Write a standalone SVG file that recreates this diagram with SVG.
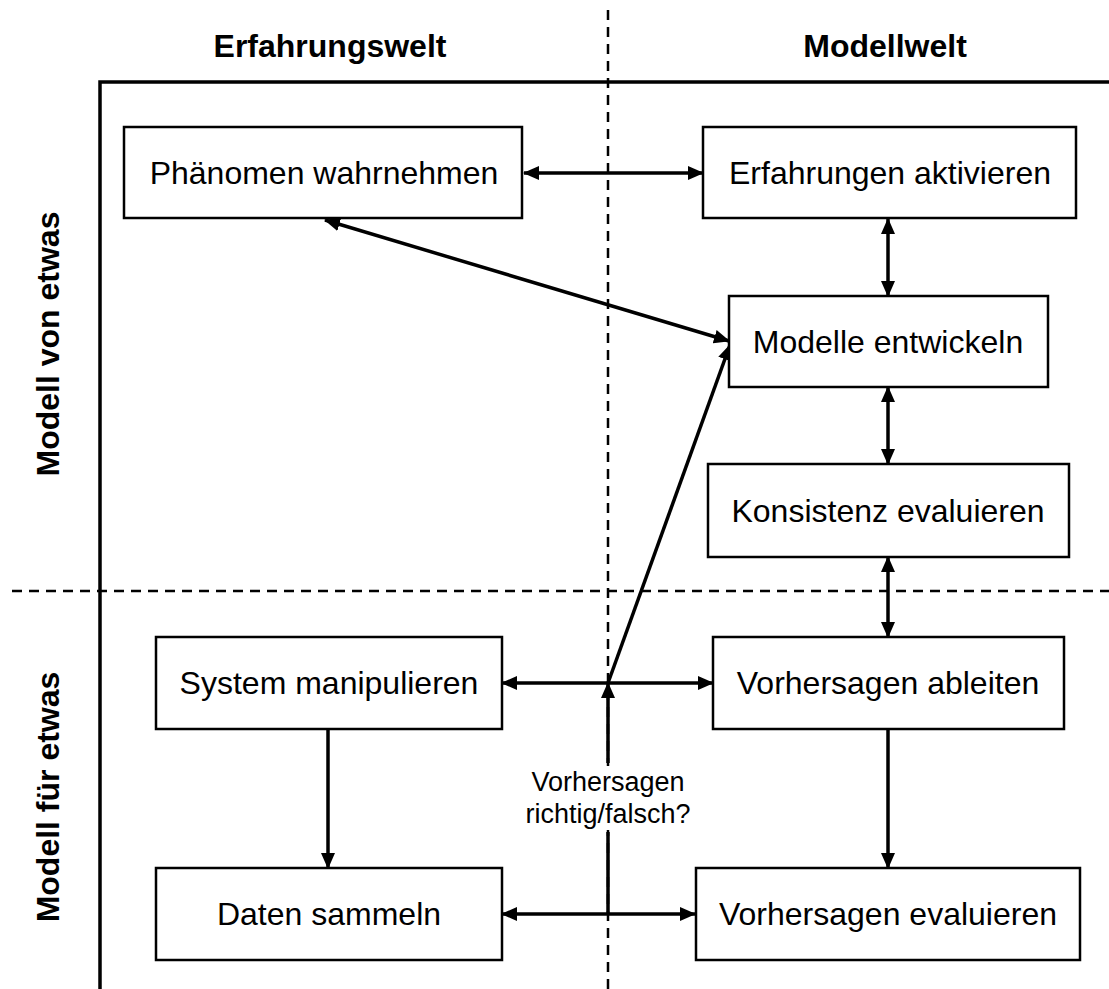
<svg xmlns="http://www.w3.org/2000/svg" width="1109" height="989" viewBox="0 0 1109 989">
  <style>
    .box rect { fill: #fff; stroke: #000; stroke-width: 2.5; }
    .box text { font-family: "Liberation Sans", Arial, sans-serif; font-size: 32px; text-anchor: middle; fill: #000; }
    .head { font-family: "Liberation Sans", Arial, sans-serif; font-size: 32px; font-weight: bold; text-anchor: middle; fill: #000; }
    .axis { stroke: #000; stroke-width: 3.5; fill: none; }
    .divider { stroke: #000; stroke-width: 2.5; stroke-dasharray: 10 7; fill: none; }
    .conn line, .conn path { stroke: #000; stroke-width: 3.5; fill: none; }
    .note { font-family: "Liberation Sans", Arial, sans-serif; font-size: 27px; text-anchor: middle; fill: #000; }
  </style>
  <defs>
    <marker id="arrow" viewBox="0 0 16 14" refX="15" refY="7" markerWidth="16" markerHeight="14" markerUnits="userSpaceOnUse" orient="auto-start-reverse">
      <path d="M0,0 L16,7 L0,14 z" fill="#000"/>
    </marker>
  </defs>

  <rect width="1109" height="989" fill="#fff"/>

  <!-- quadrant dividers -->
  <g id="dividers">
    <line class="divider" x1="608" y1="10" x2="608" y2="989"/>
    <line class="divider" x1="12" y1="591" x2="1109" y2="591"/>
  </g>

  <!-- frame -->
  <g id="frame">
    <path class="axis" d="M100,989 V82 H1109"/>
  </g>

  <!-- headings -->
  <g id="headings">
    <text class="head" x="330" y="57">Erfahrungswelt</text>
    <text class="head" x="885" y="57">Modellwelt</text>
    <text class="head" transform="translate(59,344) rotate(-90)">Modell von etwas</text>
    <text class="head" transform="translate(59,797) rotate(-90)">Modell für etwas</text>
  </g>

  <!-- connectors -->
  <g id="connectors" class="conn">
    <line x1="524" y1="173" x2="703" y2="173" marker-start="url(#arrow)" marker-end="url(#arrow)"/>
    <line x1="888" y1="219" x2="888" y2="296" marker-start="url(#arrow)" marker-end="url(#arrow)"/>
    <line x1="325" y1="220" x2="729" y2="341" marker-start="url(#arrow)" marker-end="url(#arrow)"/>
    <line x1="888" y1="387" x2="888" y2="464" marker-start="url(#arrow)" marker-end="url(#arrow)"/>
    <line x1="888" y1="557" x2="888" y2="637" marker-start="url(#arrow)" marker-end="url(#arrow)"/>
    <line x1="888" y1="730" x2="888" y2="868" marker-end="url(#arrow)"/>
    <line x1="328" y1="730" x2="328" y2="868" marker-end="url(#arrow)"/>
    <!-- upper branch point -->
    <line x1="608" y1="683" x2="502" y2="683" marker-end="url(#arrow)"/>
    <line x1="608" y1="683" x2="713" y2="683" marker-end="url(#arrow)"/>
    <line x1="608" y1="683" x2="730" y2="345" marker-end="url(#arrow)"/>
    <line x1="608" y1="763" x2="608" y2="683" marker-end="url(#arrow)"/>
    <!-- lower branch point -->
    <line x1="608" y1="914" x2="502" y2="914" marker-end="url(#arrow)"/>
    <line x1="608" y1="914" x2="695" y2="914" marker-end="url(#arrow)"/>
    <line x1="608" y1="914" x2="608" y2="832"/>
  </g>

  <g id="label-prediction">
    <rect x="522" y="766" width="172" height="64" fill="#fff"/>
    <text class="note" x="608" y="791">Vorhersagen</text>
    <text class="note" x="608" y="823">richtig/falsch?</text>
  </g>

  <!-- nodes -->
  <g id="phaenomen" class="box">
    <rect x="124" y="127" width="398" height="91"/>
    <text x="324" y="184">Phänomen wahrnehmen</text>
  </g>
  <g id="erfahrungen" class="box">
    <rect x="703" y="127" width="373" height="91"/>
    <text x="890" y="184">Erfahrungen aktivieren</text>
  </g>
  <g id="modelle" class="box">
    <rect x="729" y="296" width="319" height="91"/>
    <text x="888" y="353">Modelle entwickeln</text>
  </g>
  <g id="konsistenz" class="box">
    <rect x="708" y="464" width="361" height="93"/>
    <text x="888" y="522">Konsistenz evaluieren</text>
  </g>
  <g id="ableiten" class="box">
    <rect x="713" y="637" width="351" height="92"/>
    <text x="888" y="694">Vorhersagen ableiten</text>
  </g>
  <g id="manipulieren" class="box">
    <rect x="156" y="637" width="346" height="92"/>
    <text x="329" y="694">System manipulieren</text>
  </g>
  <g id="daten" class="box">
    <rect x="156" y="868" width="346" height="92"/>
    <text x="329" y="925">Daten sammeln</text>
  </g>
  <g id="evaluieren" class="box">
    <rect x="696" y="868" width="384" height="92"/>
    <text x="888" y="925">Vorhersagen evaluieren</text>
  </g>
</svg>
